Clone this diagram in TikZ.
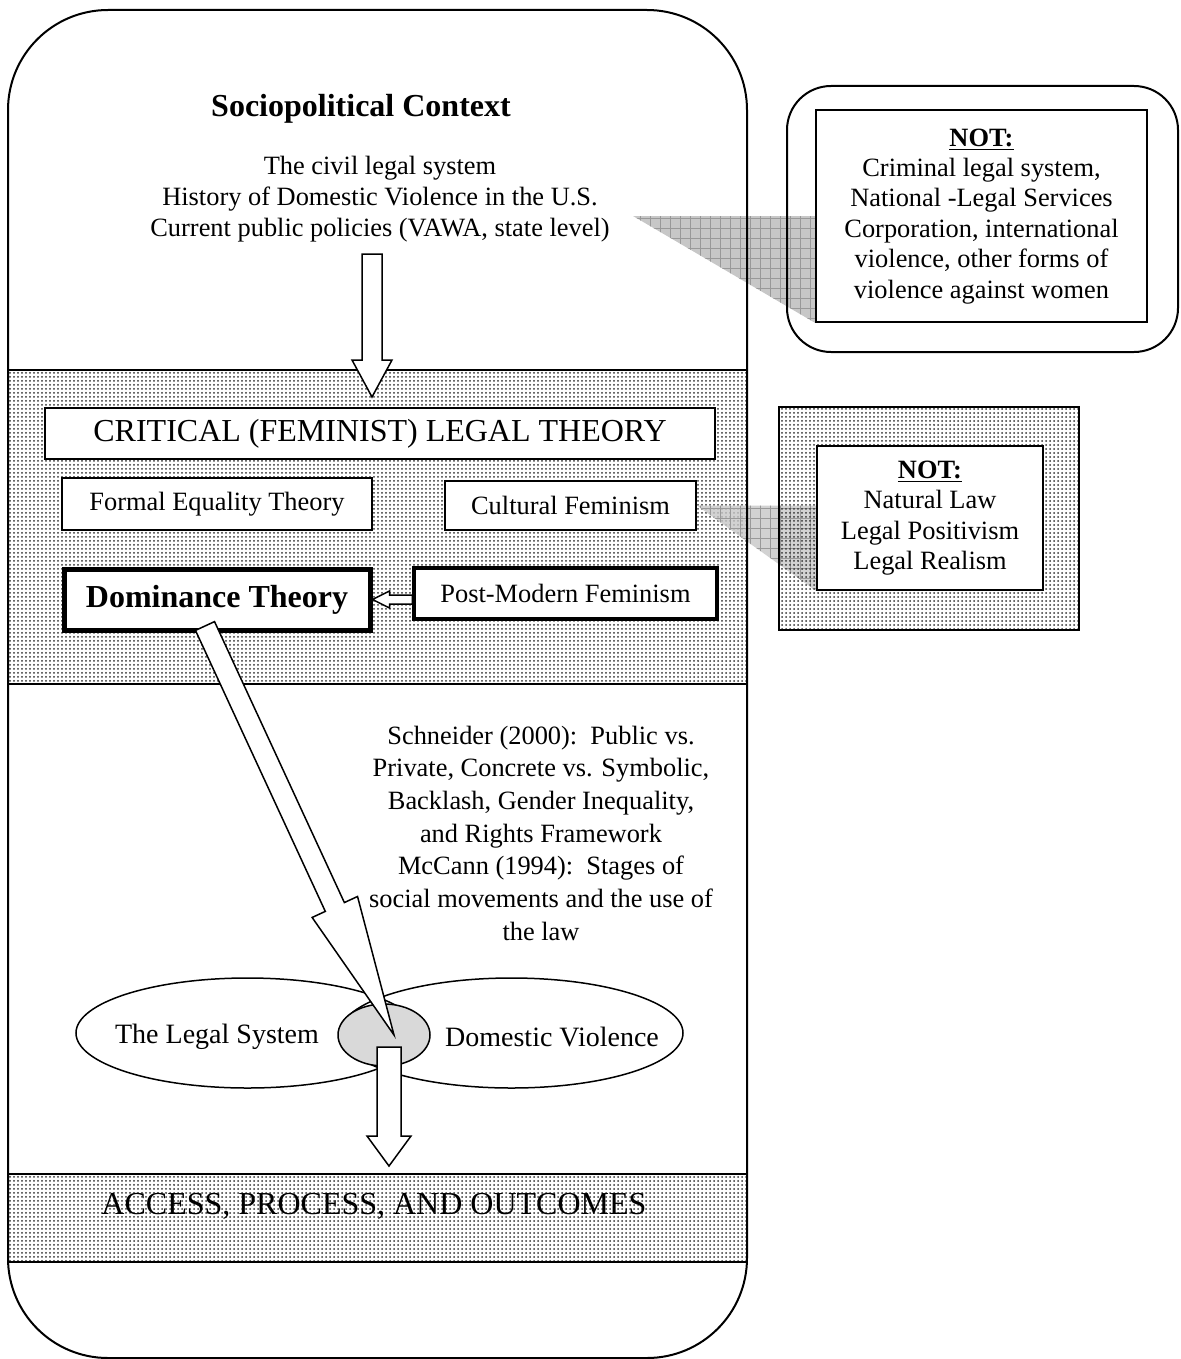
\documentclass[tikz,border=0pt]{standalone}
\usepackage{fontspec}
\setmainfont{Liberation Serif}
\usetikzlibrary{calc,shapes.geometric,patterns,backgrounds}

\pgfdeclarepatternformonly{finedots}{\pgfqpoint{-0.1pt}{-0.1pt}}{\pgfqpoint{2.1pt}{2.1pt}}{\pgfqpoint{2pt}{2pt}}{%
  \pgfpathcircle{\pgfqpoint{1pt}{1pt}}{0.5pt}\pgfusepath{fill}}
\pgfdeclarepatternformonly{hgrid}{\pgfqpoint{-0.5pt}{-0.5pt}}{\pgfqpoint{5.5pt}{5.5pt}}{\pgfqpoint{5pt}{5pt}}{%
  \pgfsetlinewidth{0.5pt}%
  \pgfpathmoveto{\pgfqpoint{0pt}{0pt}}\pgfpathlineto{\pgfqpoint{5pt}{0pt}}%
  \pgfpathmoveto{\pgfqpoint{0pt}{0pt}}\pgfpathlineto{\pgfqpoint{0pt}{5pt}}%
  \pgfusepath{stroke}}

\newcommand\fnorm{\fontsize{13.2}{15.75}\selectfont}
\newcommand\fnot{\fontsize{13.2}{15.2}\selectfont}
\newcommand\fsch{\fontsize{13.2}{16.35}\selectfont}
\newcommand\fbig{\fontsize{16}{19}\selectfont}
\newcommand\fell{\fontsize{14}{17}\selectfont}
\newcommand\lines[1]{\begin{tabular}[t]{@{}c@{}}#1\end{tabular}}
\newcommand\clines[1]{\begin{tabular}{@{}c@{}}#1\end{tabular}}

\newcommand\blockarrow[5]{%
  \path let \p1=($(#2)-(#1)$) in \pgfextra{%
    \pgfmathsetmacro\baang{atan2(\y1,\x1)}%
    \pgfmathsetmacro\balen{veclen(\x1,\y1)}%
    \global\let\baang\baang\global\let\balen\balen};
  \begin{scope}[shift={(#1)},rotate=\baang]
    \draw[blk] (0pt,-#3) -- ({\balen pt-#5},-#3) -- ({\balen pt-#5},-#4) -- (\balen pt,0pt)
      -- ({\balen pt-#5},#4) -- ({\balen pt-#5},#3) -- (0pt,#3) -- cycle;
  \end{scope}}

\begin{document}
\begin{tikzpicture}[x=0.5pt,y=-0.5pt,
  box/.style={draw, line width=0.9pt, fill=white, inner sep=0pt, font=\fnorm},
  blk/.style={draw, fill=white, line width=0.75pt, line join=miter},
  ell/.style={draw, ellipse, line width=0.75pt, inner sep=0pt},
  dotfill/.style={pattern=finedots, pattern color=black!80},
  hatchfill/.style={pattern=hgrid, pattern color=black!40}]
\useasboundingbox (0,0) rectangle (1180,1359);

% main frame
\node[draw, line width=1pt, rounded corners=50pt, minimum width=369.5pt, minimum height=674pt, inner sep=0pt] (frame) at (377.5,684) {};

% callouts
\node[draw, line width=1pt, rounded corners=22pt, minimum width=195.5pt, minimum height=133pt, inner sep=0pt] (call1) at (982.5,219) {};
\node[draw, line width=1.1pt, dotfill, minimum width=150pt, minimum height=111.5pt, inner sep=0pt] (call2) at (929,518.5) {};

% boxes
\node[box, minimum width=335pt, minimum height=25.5pt, font=\fbig] (crit) at (380,433.5) {CRITICAL (FEMINIST) LEGAL THEORY};
\node[box, minimum width=155pt, minimum height=26pt] (formal) at (217,504) {Formal Equality Theory};
\node[box, minimum width=125.5pt, minimum height=24.5pt] (cult) at (570.5,505.5) {Cultural Feminism};
\node[box, line width=2.5pt, minimum width=153pt, minimum height=30.5pt, font=\fbig\bfseries] (dom) at (217,599.5) {Dominance Theory};
\node[box, line width=1.75pt, minimum width=151.5pt, minimum height=25.5pt] (post) at (565.5,593.5) {Post-Modern Feminism};

\node[box, minimum width=165.5pt, minimum height=106pt, font=\fnot] (not1) at (981.5,216)
  {\clines{\underline{\textbf{NOT:}}\\Criminal legal system,\\National -Legal Services\\Corporation, international\\violence, other forms of\\violence against women}};
\node[box, minimum width=113pt, minimum height=72pt, font=\fnot] (not2) at (930,518)
  {\clines{\underline{\textbf{NOT:}}\\Natural Law\\Legal Positivism\\Legal Realism}};

% background: bands and callout wedges
\coordinate (t1a) at (633,216);
\begin{scope}[on background layer]
  \fill[dotfill] (frame.west |- 0,370) rectangle (frame.east |- 0,684);
  \fill[dotfill] (frame.west |- 0,1174) rectangle (frame.east |- 0,1262);
  \fill[black!22] (t1a) -- (not1.west |- t1a) -- (not1.south west) -- cycle;
  \fill[hatchfill] (t1a) -- (not1.west |- t1a) -- (not1.south west) -- cycle;
  \fill[black!22, fill opacity=0.8] (cult.east) -- (not2.west |- cult.east) -- (not2.south west) -- cycle;
  \fill[hatchfill] (cult.east) -- (not2.west |- cult.east) -- (not2.south west) -- cycle;
\end{scope}

% band lines
\draw[line width=0.8pt] (frame.west |- 0,370) -- (frame.east |- 0,370);
\draw[line width=0.8pt] (frame.west |- 0,684) -- (frame.east |- 0,684);
\draw[line width=0.8pt] (frame.west |- 0,1174) -- (frame.east |- 0,1174);
\draw[line width=0.8pt] (frame.west |- 0,1262) -- (frame.east |- 0,1262);

% ellipses
\node[ell, minimum width=171.5pt, minimum height=55pt] (els) at (247.5,1033) {};
\node[ell, minimum width=171.5pt, minimum height=55pt] (eld) at (511.5,1033) {};
\node[ell, fill=black!15, minimum width=46pt, minimum height=31pt] (mid) at (384,1035) {};

% texts
\node[font=\fbig\bfseries, anchor=base] (title) at (361,117) {Sociopolitical Context};
\node[font=\fnorm, anchor=base] (ctx) at (380,174) {\lines{The civil legal system\\History of Domestic Violence in the U.S.\\Current public policies (VAWA, state level)}};
\node[font=\fsch, anchor=base] (sch) at (541,744) {\lines{Schneider (2000):\ \ Public vs.\\Private, Concrete vs. Symbolic,\\Backlash, Gender Inequality,\\and Rights Framework\\McCann (1994):\ \ Stages of\\social movements and the use of\\the law}};
\node[font=\fell] (lsys) at (217,1037) {The Legal System};
\node[font=\fell] (dv) at (552,1037) {Domestic Violence};
\node[font=\fbig, anchor=base] (apo) at (374,1214) {ACCESS, PROCESS, AND OUTCOMES};

% arrows
\coordinate (a1s) at (372,254);
\coordinate (a1e) at (372,397);
\blockarrow{a1s}{a1e}{5pt}{10pt}{18.5pt}
\coordinate (a2s) at (post.west |- dom.east);
\blockarrow{a2s}{dom.east}{2.25pt}{4.25pt}{8.5pt}
\coordinate (dgs) at (205,626);
\coordinate (dge) at (394,1035);
\blockarrow{dgs}{dge}{5.25pt}{12.5pt}{70.5pt}
\coordinate (a3s) at (389,1047);
\coordinate (a3e) at (389,1166);
\blockarrow{a3s}{a3e}{6pt}{11pt}{15pt}
\end{tikzpicture}
\end{document}
